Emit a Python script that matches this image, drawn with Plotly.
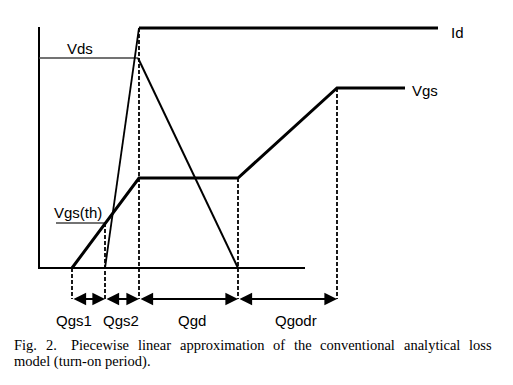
import plotly.graph_objects as go

# Diagram coordinates (x: charge axis, y: level; both in figure units, y grows downward)
axis_x = [39, 39, 305]
axis_y = [27, 268, 268]

vgs_x = [72, 139, 238, 337, 405]
vgs_y = [268, 178, 178, 88, 88]

id_x = [105, 139, 438]
id_y = [268, 28, 28]

vds_flat_x = [39, 138]
vds_flat_y = [58, 58]
vds_fall_x = [138, 238]
vds_fall_y = [58, 268]

vth_x = [56, 105]
vth_y = [223, 223]

# dashed projection lines: x position and top y
proj_x = [72, 105, 139, 238, 337]
proj_top = [268, 223, 28, 178, 88]
arrow_y = 299

interval_labels = ["Qgs1", "Qgs2", "Qgd", "Qgodr"]
interval_label_x = [74, 121, 192, 296]
label_y = 320

curve_labels = ["Id", "Vgs", "Vds", "Vgs(th)"]
curve_label_x = [449, 410, 80, 78]
curve_label_y = [32, 90, 48, 212]
curve_label_anchor = ["left", "left", "center", "center"]

caption_line1 = ["Fig.", "2.", "Piecewise", "linear", "approximation", "of", "the",
                 "conventional", "analytical", "loss"]
caption_line2 = "model (turn-on period)."
caption_y = [345, 361]

# Times-like glyph widths (1/1000 em) used to justify the first caption line
TW = {"F": 556, "i": 278, "g": 500, ".": 250, "2": 500, "P": 556, "e": 444, "c": 444,
      "w": 722, "s": 389, "l": 278, "n": 500, "a": 444, "r": 333, "p": 500, "o": 500,
      "x": 500, "m": 778, "t": 278, "f": 333, "h": 500, "v": 500, "y": 500, "d": 500}

fig = go.Figure()

def line(x, y, w, color="black", dash="solid"):
    fig.add_trace(go.Scatter(x=x, y=y, mode="lines", hoverinfo="skip",
                             line=dict(color=color, width=w, dash=dash)))

line(axis_x, axis_y, 2)
line(vds_flat_x, vds_flat_y, 1.3, "#444444")
line(vth_x, vth_y, 1.3, "#444444")
for px, pt in zip(proj_x, proj_top):
    line([px, px], [pt, arrow_y], 1.8, dash="4px,2px")
line(id_x[:2], id_y[:2], 1.8)
line(id_x[1:], id_y[1:], 3)
line(vds_fall_x, vds_fall_y, 2)
line(vgs_x, vgs_y, 3)

annotations = []
for a, b in zip(proj_x[:-1], proj_x[1:]):
    annotations.append(dict(x=b, y=arrow_y, ax=a, ay=arrow_y, xref="x", yref="y",
                            axref="x", ayref="y", text="", showarrow=True,
                            arrowhead=2, startarrowhead=2, arrowside="end+start",
                            arrowsize=1.4, startarrowsize=1.4, arrowwidth=1.8,
                            arrowcolor="black", standoff=0, startstandoff=0))

sans = dict(family="Liberation Sans, Arial", size=15, color="black")
for t, x in zip(interval_labels, interval_label_x):
    annotations.append(dict(x=x, y=label_y, text=t, showarrow=False, font=sans,
                            xanchor="center", yanchor="middle"))
for t, x, y, anc in zip(curve_labels, curve_label_x, curve_label_y, curve_label_anchor):
    annotations.append(dict(x=x, y=y, text=t, showarrow=False, font=sans,
                            xanchor=anc, yanchor="middle"))

fs = 14.5
serif = dict(family="Liberation Serif, Times New Roman", size=fs, color="black")
cap_left, cap_right = 12, 490
widths = [sum(TW.get(ch, 500) for ch in w) * fs / 1000 for w in caption_line1]
gap_units = [1] * (len(caption_line1) - 1)
gap_units[1] = 1.6  # wider gap after "Fig. 2."
free = (cap_right - cap_left) - sum(widths)
unit = free / sum(gap_units)
xpos = cap_left
for i, (w, wd) in enumerate(zip(caption_line1, widths)):
    annotations.append(dict(x=xpos, y=caption_y[0], text=w, showarrow=False, font=serif,
                            xanchor="left", yanchor="middle"))
    if i < len(gap_units):
        xpos += wd + unit * gap_units[i]
annotations.append(dict(x=cap_left, y=caption_y[1], text=caption_line2, showarrow=False,
                        font=serif, xanchor="left", yanchor="middle"))

# page body has an 8px offset; shift ranges so figure units match page pixels
fig.update_layout(
    width=513, height=385, margin=dict(l=0, r=0, t=0, b=0),
    paper_bgcolor="white", plot_bgcolor="white", showlegend=False,
    xaxis=dict(range=[8, 521], visible=False, fixedrange=True),
    yaxis=dict(range=[393, 8], visible=False, fixedrange=True),
    annotations=annotations,
)

fig.write_html("out.html")
